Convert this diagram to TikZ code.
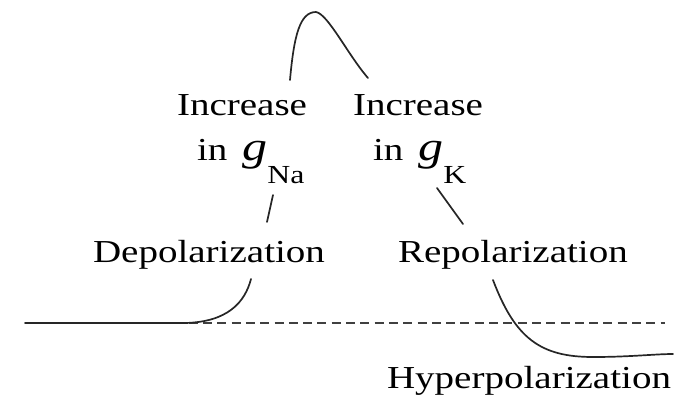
\documentclass[tikz,border=0pt]{standalone}
\usepackage{fontspec}
\usepackage{graphicx}
\setmainfont{Liberation Serif}
\newcommand\sxt[1]{\scalebox{1.22}[1]{#1}}
\newcommand\gsub[1]{{\fontsize{41}{41}\selectfont\textit{g}}\raisebox{-23pt}{\fontsize{26}{26}\selectfont #1}}
\tikzset{
  lbl/.style={inner sep=0pt, outer sep=0pt, anchor=base west, font=\fontsize{32}{38}\selectfont},
  apcurve/.style={line width=1.7pt, draw=black!85, line cap=round},
  restline/.style={line width=1.8pt, draw=black!75, dash pattern=on 9pt off 5.3pt}
}
\begin{document}
\begin{tikzpicture}[x=1pt, y=-1pt]
\useasboundingbox (0,0) rectangle (678,400);
% labels
\node[lbl] (incNa) at (177,115) {\sxt{Increase}};
\node[lbl] (inNa) at (197,160) {\sxt{in\hspace{12.3pt}\gsub{Na}}};
\node[lbl] (incK) at (353,115) {\sxt{Increase}};
\node[lbl] (inK) at (373,160) {\sxt{in\hspace{12.3pt}\gsub{K}}};
\node[lbl] (depol) at (93,262) {\sxt{Depolarization}};
\node[lbl] (repol) at (398,262) {\sxt{Repolarization}};
\node[lbl] (hyper) at (387,388) {\sxt{Hyperpolarization}};
% coordinates of the curve
\coordinate (rs) at (60,323);
\coordinate (re) at (665,323);
\coordinate (b0) at (25,323);
\coordinate (b1) at (185,323);
\coordinate (up) at (251,279);
\coordinate (na1) at (273,195);
\coordinate (na2) at (267,222);
\coordinate (p0) at (290,80);
\coordinate (pk) at (316,12);
\coordinate (p1) at (368,78);
\coordinate (k1) at (437,188);
\coordinate (k2) at (463,224);
\coordinate (d0) at (493,280);
\coordinate (d1) at (593,357);
\coordinate (d2) at (673,354);
% resting potential
\draw[restline] (rs) -- (re);
% action potential pieces
\draw[apcurve] (b0) -- (b1) .. controls (228,322) and (245,302) .. (up);
\draw[apcurve] (na1) -- (na2);
\draw[apcurve] (p0) .. controls (294,35) and (300,12) .. (pk) .. controls (328,14) and (348,55) .. (p1);
\draw[apcurve] (k1) -- (k2);
\draw[apcurve] (d0) .. controls (515,338) and (540,357) .. (d1) .. controls (630,357) and (655,354) .. (d2);
\end{tikzpicture}
\end{document}
